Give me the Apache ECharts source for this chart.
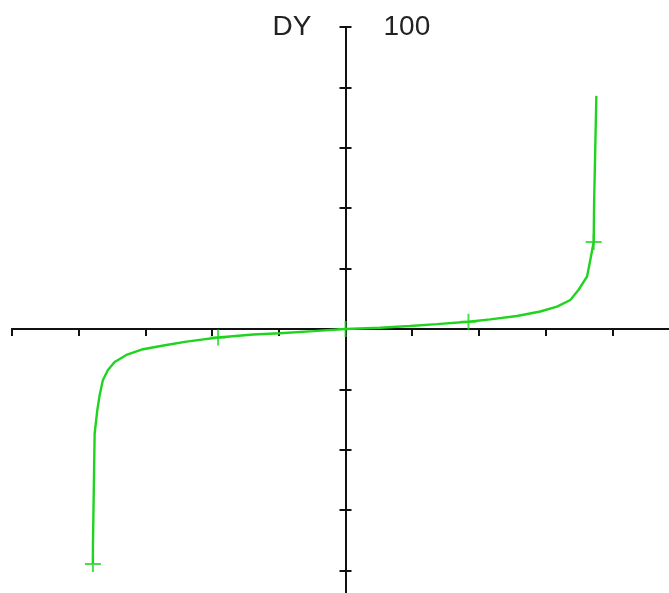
<!DOCTYPE html>
<html>
<head>
<meta charset="utf-8">
<script src="https://cdn.jsdelivr.net/npm/echarts@6/dist/echarts.min.js"></script>
<style>
  html, body { margin: 0; padding: 0; background: #fff; overflow: hidden; }
  /* plot runs past the right and bottom edges of the window */
  #chart { width: 679px; height: 631px; }
</style>
</head>
<body>
<div id="chart"></div>
<script>
// Curve samples (x, DY)
const curveX = [-3.787, -3.787, -3.761, -3.721, -3.686, -3.637, -3.562, -3.461, -3.285, -3.036,
  -2.685, -2.384, -2.185, -1.910, -1.384, -0.983, -0.483, 0,
  0.518, 0.968, 1.369, 1.844, 2.170, 2.571, 2.920, 3.171, 3.371, 3.495, 3.622, 3.671, 3.721, 3.727, 3.761];
const curveY = [-77.8, -72.3, -34.6, -26.9, -21.9, -16.9, -13.6, -10.9, -8.6, -6.7,
  -5.3, -4.2, -3.6, -2.8, -1.8, -1.4, -0.7, 0,
  0.4, 1.0, 1.6, 2.4, 3.2, 4.3, 5.8, 7.4, 9.6, 13.0, 17.4, 22.9, 28.8, 41.5, 77.2];

// Marked points
const markX = [-3.787, -1.910, 0, 1.844, 3.721];
const markY = [-77.8, -2.8, 0, 2.4, 28.8];

// Axis ticks
const xMin = -5, xMax = 5, xStep = 1;
const yMin = -100, yMax = 100, yStep = 20;
const yTopLabel = '100';
const yName = 'DY';

const curve = curveX.map((x, i) => [x, curveY[i]]);
const marks = markX.map((x, i) => [x, markY[i]]);

const W = 679, H = 631;
const gridLeft = 12, gridRight = 0, gridTop = 27, gridBottom = 0;
// the vertical axis sits on x = 0, halfway across the plot
const yShift = -((W - gridLeft - gridRight) / 2);

const green = '#1fd41f';
const plus = 'path://M7,0h2v7h7v2h-7v7h-2v-7h-7v-2h7z';
const tickStyle = { color: '#111', width: 2 };
const lineStyle = { color: '#111', width: 2 };
const textFont = { fontFamily: 'Liberation Sans', fontSize: 28, color: '#222' };

const baseX = {
  type: 'value', min: xMin, max: xMax, interval: xStep,
  axisLine: { onZero: true, onZeroAxisIndex: 0, lineStyle: lineStyle },
  splitLine: { show: false },
  axisLabel: { show: false }
};
const baseY = {
  type: 'value', min: yMin, max: yMax, interval: yStep,
  offset: yShift,
  axisLine: { onZero: false, lineStyle: lineStyle },
  splitLine: { show: false }
};

const chart = echarts.init(document.getElementById('chart'), null, { renderer: 'canvas' });
chart.setOption({
  animation: false,
  backgroundColor: '#fff',
  grid: {
    left: gridLeft, right: gridRight, top: gridTop, bottom: gridBottom,
    containLabel: false, outerBoundsMode: 'none'
  },
  xAxis: [
    Object.assign({}, baseX, { axisTick: { show: true, inside: false, length: 7, lineStyle: tickStyle } }),
    Object.assign({}, baseX, { axisTick: { show: true, inside: true, length: 7, lineStyle: tickStyle } })
  ],
  yAxis: [
    Object.assign({}, baseY, {
      position: 'right',
      name: yName,
      nameLocation: 'end',
      nameGap: 0,
      nameTextStyle: Object.assign({}, textFont, {
        align: 'right', verticalAlign: 'middle', padding: [0, 34, 0, 0]
      }),
      axisTick: { show: true, inside: false, length: 6, lineStyle: tickStyle },
      axisLabel: Object.assign({}, textFont, {
        show: true, inside: false, margin: 38,
        formatter: v => (v === yMax ? yTopLabel : '')
      })
    }),
    Object.assign({}, baseY, {
      position: 'left',
      axisTick: { show: true, inside: false, length: 6, lineStyle: tickStyle },
      axisLabel: { show: false }
    })
  ],
  series: [
    {
      type: 'line', data: curve, xAxisIndex: 0, yAxisIndex: 0,
      showSymbol: false, smooth: false,
      lineStyle: { color: green, width: 2.4 }
    },
    {
      type: 'scatter', data: marks, xAxisIndex: 0, yAxisIndex: 0,
      symbol: plus, symbolSize: 16,
      itemStyle: { color: green }
    }
  ]
});
</script>
</body>
</html>
